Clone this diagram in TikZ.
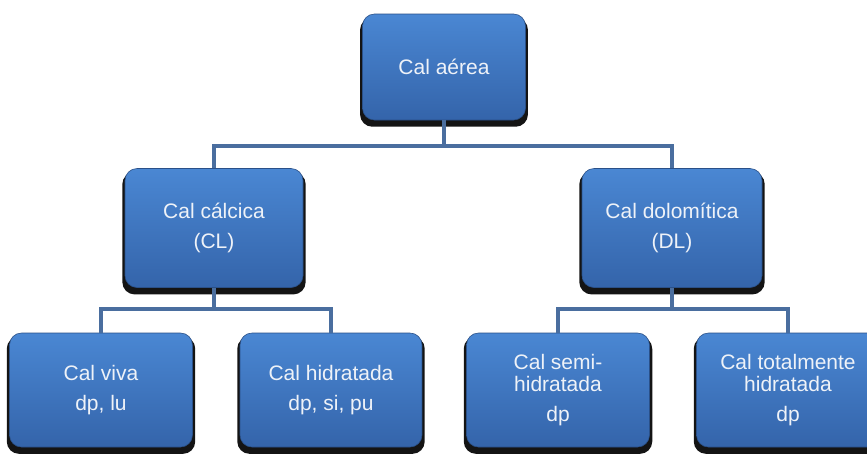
\documentclass[tikz,border=0pt]{standalone}
\usepackage{fontspec}
\setmainfont{Liberation Sans}
\usetikzlibrary{shadows}
\definecolor{boxtop}{HTML}{4A87D3}
\definecolor{boxbot}{HTML}{3464AA}
\definecolor{linecol}{HTML}{4A6E9F}
\definecolor{txtcol}{HTML}{EEF2F8}
\begin{document}
\begin{tikzpicture}[x=1pt,y=-1pt,
  blockbox/.style={rounded corners=12pt, top color=boxtop, bottom color=boxbot,
    draw=boxbot!80!black, line width=0.6pt,
    drop shadow={shadow xshift=0pt, shadow yshift=-5pt, shadow scale=1.03, fill=black, opacity=0.92},
    text=txtcol, align=center, inner sep=0pt,
    font=\fontsize{21}{30}\selectfont},
  conn/.style={draw=linecol, line width=4.5pt, line join=miter}]
\useasboundingbox (0,0) rectangle (867,456);
\node[blockbox, minimum width=163pt, minimum height=106pt] (top) at (444,67) {Cal aérea};
\node[blockbox, minimum width=178pt, minimum height=119pt] (cl) at (214,228) {Cal cálcica\\(CL)};
\node[blockbox, minimum width=180pt, minimum height=119pt] (dl) at (672,228) {Cal dolomítica\\(DL)};
\node[blockbox, minimum width=183pt, minimum height=114pt] (viva) at (101,390) {Cal viva\\dp, lu};
\node[blockbox, minimum width=182pt, minimum height=114pt] (hid) at (331,390) {Cal hidratada\\dp, si, pu};
\node[blockbox, minimum width=183pt, minimum height=114pt] (semi) at (558,390) {Cal semi-\\[-8pt]hidratada\\dp};
\node[blockbox, minimum width=183pt, minimum height=114pt] (tot) at (788,390) {Cal totalmente\\[-8pt]hidratada\\dp};
\coordinate (h1) at (0,146);
\coordinate (h2) at (0,309);
\draw[conn] (top.south) -- (top.south |- h1);
\draw[conn] (cl.north) -- (cl.north |- h1) -- (dl.north |- h1) -- (dl.north);
\draw[conn] (cl.south) -- (cl.south |- h2);
\draw[conn] (viva.north) -- (viva.north |- h2) -- (hid.north |- h2) -- (hid.north);
\draw[conn] (dl.south) -- (dl.south |- h2);
\draw[conn] (semi.north) -- (semi.north |- h2) -- (tot.north |- h2) -- (tot.north);
\end{tikzpicture}
\end{document}
